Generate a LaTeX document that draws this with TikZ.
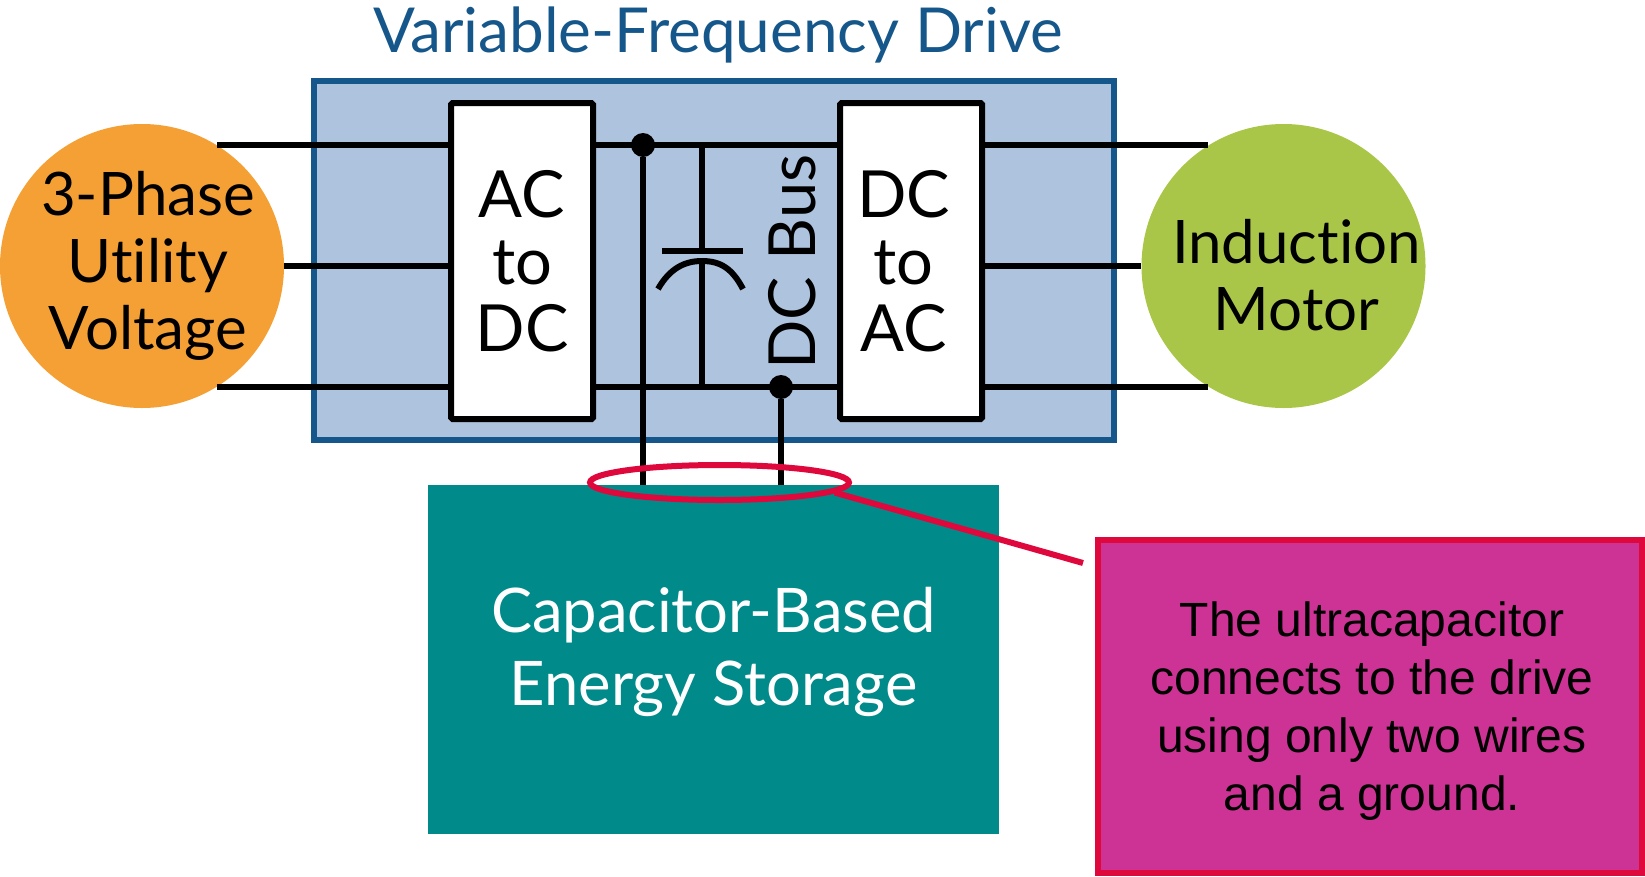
\documentclass[tikz,border=0pt]{standalone}
\usepackage{fontspec}
\setmainfont[Ligatures=NoCommon]{Lato}
\newfontfamily\notefont{Liberation Sans}
\usetikzlibrary{shapes.geometric, arrows}
\definecolor{panelblue}{RGB}{174,195,222}
\definecolor{titleblue}{RGB}{21,87,138}
\definecolor{sourceorange}{RGB}{245,160,52}
\definecolor{motorgreen}{RGB}{170,198,72}
\definecolor{storageteal}{RGB}{0,138,138}
\definecolor{notered}{RGB}{222,8,60}
\definecolor{notepink}{RGB}{204,51,148}
\tikzstyle{wire} = [line width=6pt, black]
\tikzstyle{word} = [align=center, font=\fontsize{60}{67}\selectfont]
\tikzstyle{bigword} = [align=center, font=\fontsize{65}{67}\selectfont]
\tikzstyle{block} = [draw=black, line width=6pt, fill=white, rounded corners=1.5pt, minimum width=142pt, minimum height=316pt, inner sep=0pt]
\tikzstyle{source} = [circle, minimum size=284pt, inner sep=0pt]
\tikzstyle{dot} = [circle, fill=black, minimum size=24pt, inner sep=0pt]
\tikzstyle{ringline} = [draw=notered, line width=6pt]

\begin{document}
\begin{tikzpicture}[x=1pt, y=-1pt, node distance=100pt]
\useasboundingbox (0,0) rectangle (1645,876);

%nodes
\node (vfd) [draw=titleblue, line width=6pt, fill=panelblue, minimum width=800pt, minimum height=359pt, inner sep=0pt] at (714,260.5) {};
\node (title) [word, font=\fontsize{62}{67}\selectfont, text=titleblue, above of=vfd, xshift=4pt, yshift=126pt] {Variable-Frequency Drive};
\node (utility) [source, fill=sourceorange] at (142,266) {};
\node (utilitytext) [word, right of=utility, xshift=-94pt] {3-Phase \\ Utility \\ Voltage};
\node (motor) [source, fill=motorgreen, right of=utility, xshift=1041.5pt] {};
\node (motortext) [word, right of=motor, xshift=-87pt, yshift=-9pt] {Induction \\ Motor};
\node (acdc) [block, bigword] at (522,261) {AC \\ to \\ DC};
\node (dcac) [block, right of=acdc, xshift=289pt] {};
\node (dcactext) [bigword, right of=dcac, xshift=-107.5pt] {DC \\ to \\ AC};
\node (buslabel) [bigword, rotate=90] at (792,262) {DC Bus};
\node (storage) [fill=storageteal, minimum width=571pt, minimum height=349pt, inner sep=0pt] at (713.5,659.5) {};
\node (storagetext) [word, text=white, font=\fontsize{61.5}{73}\selectfont, above of=storage, yshift=-92pt] {Capacitor-Based \\ Energy Storage};
\node (note) [draw=notered, line width=5.5pt, fill=notepink, minimum width=544pt, minimum height=333pt, inner sep=0pt] at (1370,706.5) {};
\node (notetext) [align=center, font=\notefont\fontsize{48}{58}\selectfont, below of=note, xshift=2pt, yshift=95pt] {The ultracapacitor \\ connects to the drive \\ using only two wires \\ and a ground.};

%bus junctions and free ends
\node (topdot) [dot] at (643,145) {};
\node (botdot) [dot] at (781,387) {};
\coordinate (captop) at (702,145);
\coordinate (capbot) at (702,387);
\coordinate (plateL) at (662,251);
\coordinate (plateR) at (743,251);
\coordinate (arcL) at (658,289);
\coordinate (arcR) at (743,289);
\coordinate (markerend) at (1083,563);

%wires
\draw [wire] (utility.58) -- (acdc.west |- utility.58);
\draw [wire] (utility.east) -- (acdc.west |- utility.east);
\draw [wire] (utility.-58) -- (acdc.west |- utility.-58);
\draw [wire] (acdc.east |- topdot) -- (dcac.west |- topdot);
\draw [wire] (acdc.east |- botdot) -- (dcac.west |- botdot);
\draw [wire] (dcac.east |- motor.122) -- (motor.122);
\draw [wire] (dcac.east |- motor.west) -- (motor.west);
\draw [wire] (dcac.east |- motor.-122) -- (motor.-122);
\draw [wire] (topdot) -- (topdot |- storage.north);
\draw [wire] (botdot) -- (botdot |- storage.north);

%capacitor
\draw [wire] (captop) -- (702,251);
\draw [wire] (plateL) -- (plateR);
\draw [wire] (702,261) -- (capbot);
\draw [wire] (arcL) .. controls (670,268) and (685,261) .. (702,261) .. controls (720,261) and (732,268) .. (arcR);

%callout
\node (ring) [ringline, ellipse, minimum width=259pt, minimum height=35pt, inner sep=0pt] at (719.5,482.5) {};
\draw [ringline] (ring.-5) -- (markerend);

\end{tikzpicture}
\end{document}
